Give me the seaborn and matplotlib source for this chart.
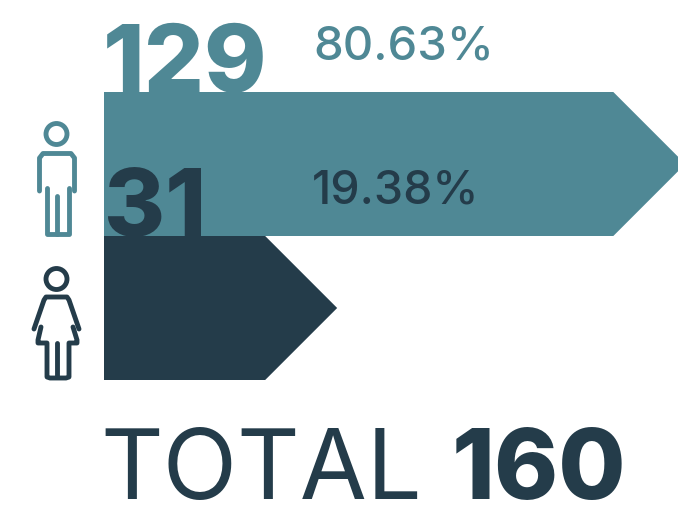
import matplotlib
matplotlib.use('Agg')
import matplotlib.pyplot as plt
from matplotlib.patches import Polygon, Circle
import seaborn as sns
import pandas as pd

genders = ['Male', 'Female']
counts = [129, 31]
shares = ['80.63%', '19.38%']
total = 160
bar_colors = ['#4f8895', '#243c4a']

W, H = 678, 507
sns.set_theme(style='white')
plt.rcParams['font.family'] = ['Inter', 'DejaVu Sans']

fig = plt.figure(figsize=(W / 100, H / 100), dpi=100)
df = pd.DataFrame({'gender': genders, 'count': counts})

# bar area, in pixels: x 104-678, y 92-380
ax = fig.add_axes([104 / W, 1 - 380 / H, 574 / W, 288 / H])
sns.barplot(data=df, y='gender', x='count', hue='gender', palette=bar_colors,
            width=1, saturation=1, legend=False, linewidth=0, ax=ax)
ax.set_xscale('function', functions=(lambda v: v ** 0.807, lambda v: v ** (1 / 0.807)))
ax.set_xlim(0, 149.6)
ax.set_ylim(1.5, -0.5)
ax.axis('off')

# arrow heads on the end of each bar
for bar, col in zip(ax.patches, bar_colors):
    end = bar.get_x() + bar.get_width()
    y0, y1 = bar.get_y(), bar.get_y() + bar.get_height()
    ex = ax.transData.transform((end, y0))[0]
    top = ax.transData.transform((end, y0))[1]
    bot = ax.transData.transform((end, y1))[1]
    mid = (top + bot) / 2
    head = Polygon([(ex - 2, top), (ex, top), (ex + abs(top - bot) / 2, mid), (ex, bot), (ex - 2, bot)],
                   closed=True, transform=None, color=col, lw=0, clip_on=False)
    fig.add_artist(head)

# overlay in pixel coordinates for the icons and text
ov = fig.add_axes([0, 0, 1, 1], zorder=5)
ov.set_xlim(0, W)
ov.set_ylim(H, 0)
ov.axis('off')
ov.patch.set_alpha(0)


def stroke(xs, ys, col):
    ov.plot(xs, ys, color=col, lw=3.5, solid_capstyle='round', solid_joinstyle='round')


# male icon
c = bar_colors[0]
ov.add_patch(Circle((56.5, 134), 10.5, fill=False, ec=c, lw=3.5))
stroke([39.5, 39.5, 43, 71, 74.5, 74.5], [191, 158, 153.5, 153.5, 158, 191], c)
stroke([47, 47, 69, 69], [188, 234, 234, 188], c)
stroke([56.5, 56.5], [196, 234], c)

# female icon
c = bar_colors[1]
ov.add_patch(Circle((56.5, 279), 10.5, fill=False, ec=c, lw=3.5))
stroke([34, 44, 46, 67, 69, 79], [329, 300, 297, 297, 300, 329], c)
stroke([41, 38, 38, 47, 47, 50, 66, 69, 69, 77, 77, 73],
       [327, 340, 343, 343, 377, 378, 378, 377, 343, 343, 340, 327], c)
stroke([56.5, 56.5], [343, 377], c)

# counts and shares
ov.text(103, 92, str(counts[0]), color=bar_colors[0], fontsize=68, fontweight='heavy', va='baseline', ha='left')
ov.text(104, 236, str(counts[1]), color=bar_colors[1], fontsize=67, fontweight='heavy', va='baseline', ha='left')
ov.text(313, 59, shares[0], color=bar_colors[0], fontsize=34, fontweight='medium', va='baseline', ha='left')
ov.text(312, 203, shares[1], color=bar_colors[1], fontsize=33.5, fontweight='medium', va='baseline', ha='left')

# total line
ov.text(100, 499, 'TOTAL', color=bar_colors[1], fontsize=70, fontweight='regular', va='baseline', ha='left')
ov.text(452, 499, str(total), color=bar_colors[1], fontsize=70, fontweight='heavy', va='baseline', ha='left')

fig.savefig('out.png', dpi=100)
